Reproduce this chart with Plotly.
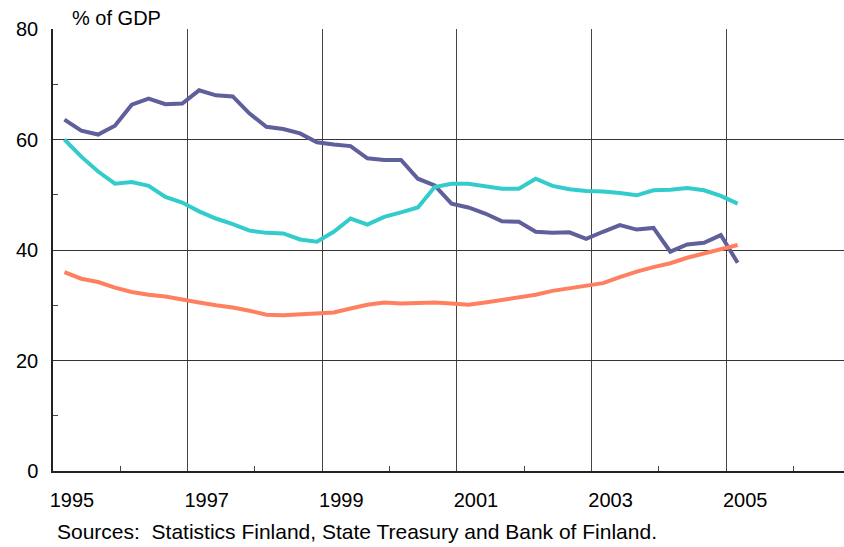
import plotly.graph_objects as go

# quarterly observations, 1995Q1 .. 2005Q1
years = list(range(1995, 2006))
quarters = [f"{y}Q{q}" for y in years for q in range(1, 5)][:41]

purple_vals = [63.6, 61.6, 60.9, 62.5, 66.3, 67.4, 66.4, 66.5, 68.9, 68.0,
               67.8, 64.7, 62.3, 61.9, 61.1, 59.5, 59.1, 58.8, 56.6, 56.3,
               56.3, 52.9, 51.7, 48.4, 47.7, 46.6, 45.2, 45.1, 43.3, 43.1,
               43.2, 42.0, 43.3, 44.5, 43.7, 44.0, 39.7, 41.0, 41.3, 42.7,
               37.7]
teal_vals = [60.0, 56.9, 54.2, 52.0, 52.3, 51.6, 49.6, 48.6, 47.0, 45.7,
             44.7, 43.5, 43.1, 43.0, 41.9, 41.5, 43.3, 45.7, 44.6, 46.0,
             46.8, 47.7, 51.4, 52.0, 52.0, 51.6, 51.1, 51.1, 52.9, 51.6,
             51.0, 50.7, 50.6, 50.3, 49.9, 50.8, 50.9, 51.2, 50.8, 49.8,
             48.4]
orange_vals = [36.0, 34.8, 34.2, 33.2, 32.4, 31.9, 31.6, 31.0, 30.5, 30.0,
               29.6, 29.0, 28.3, 28.2, 28.4, 28.5, 28.7, 29.4, 30.1, 30.5,
               30.3, 30.4, 30.5, 30.3, 30.1, 30.5, 31.0, 31.4, 31.9, 32.6,
               33.1, 33.5, 34.0, 35.1, 36.1, 36.9, 37.6, 38.6, 39.4, 40.2,
               40.9]

# place each quarter on a fractional-year axis
def qpos(label):
    y, q = label.split("Q")
    return int(y) + (int(q) - 1) * 0.25 + 0.17

x = [qpos(q) for q in quarters]

font = "Liberation Sans, Arial, sans-serif"

fig = go.Figure()
fig.add_trace(go.Scatter(x=x, y=purple_vals, mode='lines',
                         line=dict(color='#5f5f9b', width=4)))
fig.add_trace(go.Scatter(x=x, y=teal_vals, mode='lines',
                         line=dict(color='#33cccc', width=4)))
fig.add_trace(go.Scatter(x=x, y=orange_vals, mode='lines',
                         line=dict(color='#ff8060', width=4)))

# plot area runs to the right edge of the page, like the original
fig.update_layout(
    width=844, height=547,
    margin=dict(l=53, r=0, t=29, b=76),
    paper_bgcolor='white', plot_bgcolor='white',
    showlegend=False,
    font=dict(family=font, size=20, color='black'),
    xaxis=dict(range=[1995, 2006.75], tick0=1995, dtick=2,
               showgrid=True, gridcolor='#444', gridwidth=1,
               showline=True, linecolor='#222', linewidth=1.5,
               ticks='', ticklabelshift=19, ticklabelstandoff=10,
               minor=dict(ticks='inside', ticklen=5, tickcolor='#444', dtick=1, tick0=1995),
               zeroline=False),
    yaxis=dict(range=[0, 80], tick0=0, dtick=20,
               showgrid=True, gridcolor='#333', gridwidth=1,
               showline=True, linecolor='#222', linewidth=1.5,
               ticks='', ticklabelstandoff=9,
               minor=dict(ticks='inside', ticklen=5, tickcolor='#444', dtick=10, tick0=0),
               zeroline=False),
    annotations=[
        dict(text='% of GDP', xref='paper', yref='paper', x=0.022, y=1,
             xanchor='left', yanchor='bottom', yshift=-2, showarrow=False,
             font=dict(size=20)),
        dict(text='Sources:&nbsp; Statistics Finland, State Treasury and Bank of Finland.',
             xref='paper', yref='paper', x=0.003, y=0, xanchor='left', yanchor='top',
             yshift=-47, showarrow=False, font=dict(size=21)),
    ],
)

# drop the default page margin so the figure sits flush with the window
fig.write_html("out.html", config={'displayModeBar': False},
               post_script="document.body.style.margin='0';document.body.style.overflow='hidden';")
